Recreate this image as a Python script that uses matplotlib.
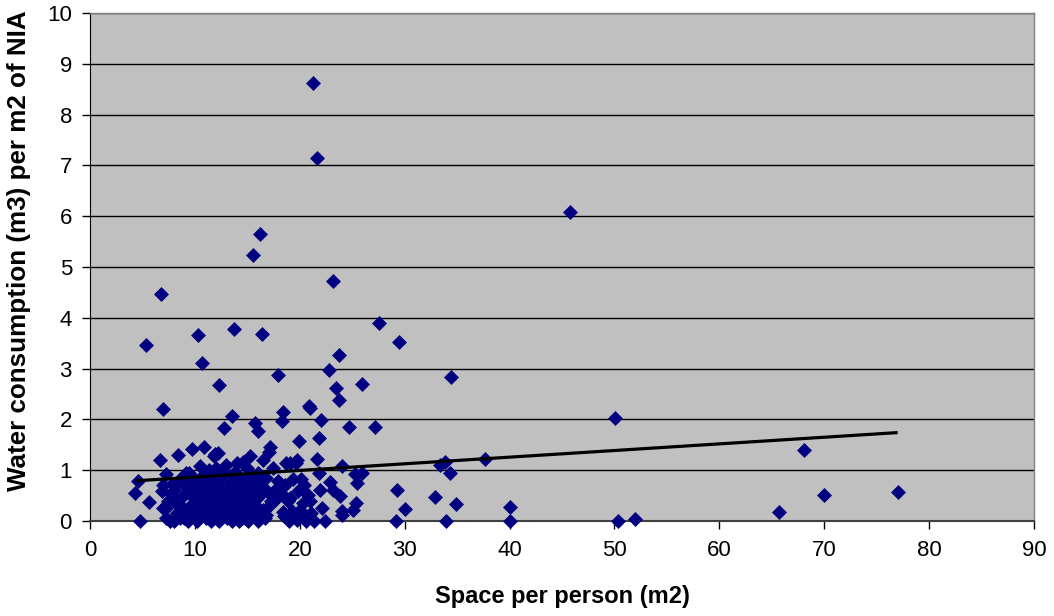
import matplotlib
matplotlib.use("Agg")
import matplotlib.pyplot as plt
import numpy as np

# Space per person (m2) and water consumption (m3 per m2 of NIA) per building
space_per_person = [
    21.3, 21.6, 45.8, 16.2, 15.5, 23.2, 6.8, 5.3, 10.3, 13.7, 16.4, 27.6, 29.5,
    10.7, 23.7, 12.3, 17.9, 22.8, 25.9, 34.4, 23.5, 23.7, 7.0, 13.5, 18.4, 18.3,
    20.9, 21.0, 22.0, 50.1, 24.7, 27.2, 12.8, 15.7, 16.0, 21.8, 19.9, 17.2, 17.1,
    68.1, 37.7, 33.4, 33.8, 34.3, 32.9, 34.9, 40.0, 30.0, 29.3, 29.2, 33.9, 40.0,
    50.3, 52.0, 65.7, 70.0, 77.0,
    9.7, 10.9, 8.4, 6.7, 11.9, 12.2, 14.6, 15.3, 17.4, 18.7, 19.1, 19.6, 21.6,
    24.0, 21.8, 25.3, 25.9, 25.5, 22.9, 23.2, 23.8, 20.8, 21.9, 19.4, 20.1, 16.8,
    7.2, 9.4, 4.6, 4.3, 5.6, 4.8, 7.0, 18.9, 18.4, 20.0, 25.4, 25.1, 24.0, 24.0,
    22.1, 21.1, 21.4, 22.4, 18.5,
    11.8, 16.5, 19.7, 9.2, 12.1, 13.8, 7.0, 7.8, 7.2, 8.3, 8.9, 7.2, 15.9, 16.4,
    16.8, 19.1, 20.3, 20.7, 19.7, 17.8, 17.2, 15.3, 15.9,
    8.0, 8.2, 8.5, 8.6, 8.8, 9.0, 9.1, 9.3, 9.4, 9.6, 9.8, 9.9, 10.0, 10.1, 10.2,
    10.3, 10.5, 10.6, 10.7, 10.8, 10.9, 11.0, 11.1, 11.2, 11.3, 11.4, 11.5, 11.6,
    11.7, 11.8, 11.9, 12.0, 12.1, 12.2, 12.3, 12.4, 12.5, 12.6, 12.7, 12.8, 12.9,
    13.0, 13.1, 13.2, 13.3, 13.4, 13.5, 13.6, 13.7, 13.8, 13.9, 14.0, 14.1, 14.2,
    14.3, 14.4, 14.5, 14.6, 14.7, 14.8, 14.9, 15.0, 15.1, 15.2, 15.4, 15.5, 15.6,
    15.8, 16.0, 16.1, 16.3, 16.5, 16.7, 17.0, 17.3, 17.6, 17.9, 18.2, 18.6, 19.0,
    19.3, 19.8, 20.4, 20.6, 21.0, 12.0, 13.0, 14.0, 11.3, 15.0, 16.0, 10.5, 9.0,
    8.0, 7.6, 7.4, 7.8, 6.9,
    10.4, 11.6, 12.4, 13.2, 14.1, 14.9, 9.5, 10.9, 12.9, 13.6, 14.5, 11.0, 12.2,
]
water_per_m2 = [
    8.62, 7.14, 6.08, 5.65, 5.23, 4.73, 4.46, 3.47, 3.67, 3.78, 3.68, 3.89, 3.53,
    3.12, 3.26, 2.67, 2.87, 2.97, 2.70, 2.83, 2.62, 2.38, 2.20, 2.06, 2.14, 1.96,
    2.26, 2.22, 1.99, 2.03, 1.85, 1.85, 1.83, 1.93, 1.78, 1.64, 1.57, 1.46, 1.36,
    1.39, 1.22, 1.11, 1.16, 0.94, 0.48, 0.34, 0.27, 0.23, 0.61, 0.00, 0.00, 0.00,
    0.00, 0.03, 0.17, 0.52, 0.58,
    1.42, 1.46, 1.29, 1.21, 1.31, 1.33, 1.17, 1.27, 1.05, 1.14, 1.15, 1.15, 1.23,
    1.08, 0.94, 0.92, 0.94, 0.74, 0.77, 0.62, 0.50, 0.52, 0.61, 0.83, 0.83, 0.84,
    0.92, 0.94, 0.78, 0.56, 0.38, 0.00, 0.25, 0.40, 0.17, 0.22, 0.35, 0.22, 0.20,
    0.12, 0.25, 0.15, 0.00, 0.00, 0.10,
    1.27, 1.20, 1.20, 0.94, 0.97, 0.97, 0.71, 0.51, 0.25, 0.15, 0.25, 0.05, 0.45,
    0.18, 0.12, 0.45, 0.35, 0.08, 0.02, 0.45, 0.31, 0.64, 0.74,
    0.62, 0.35, 0.80, 0.05, 0.48, 0.70, 0.20, 0.00, 0.55, 0.32, 0.85, 0.10, 0.45,
    0.66, 0.00, 0.28, 0.78, 0.52, 0.15, 0.38, 0.92, 0.60, 0.05, 0.30, 0.72, 0.47,
    0.00, 0.20, 0.85, 0.58, 0.36, 0.10, 0.68, 0.44, 0.00, 0.25, 0.80, 0.55, 0.15,
    0.38, 0.95, 0.62, 0.05, 0.30, 0.48, 0.75, 0.00, 0.20, 0.58, 0.40, 0.10, 0.88,
    0.28, 0.00, 0.65, 0.45, 0.15, 0.35, 0.78, 0.05, 0.55, 0.25, 0.00, 0.42, 0.90,
    0.12, 0.60, 0.30, 0.00, 0.50, 0.70, 0.22, 0.05, 0.58, 0.40, 0.62, 0.78, 0.55,
    0.70, 0.00, 0.20, 0.60, 0.70, 0.00, 0.40, 1.05, 1.10, 1.15, 1.00, 1.05, 0.95,
    1.08, 0.05, 0.00, 0.00, 0.40, 0.72, 0.60,
    0.18, 0.40, 0.58, 0.14, 0.50, 0.68, 0.72, 0.22, 0.32, 0.88, 0.05, 0.82, 0.02,
]

# Linear trend line: intercept and slope
trend_intercept = 0.734
trend_slope = 0.01307

x_ticks = [0, 10, 20, 30, 40, 50, 60, 70, 80, 90]
y_ticks = [0, 1, 2, 3, 4, 5, 6, 7, 8, 9, 10]

plt.rcParams["font.family"] = ["Liberation Sans", "DejaVu Sans"]

fig = plt.figure(figsize=(10.54, 6.16), dpi=100)
ax = fig.add_axes([90 / 1054, 95 / 616, 944 / 1054, 508 / 616])
ax.set_facecolor("#C0C0C0")

ax.set_xlim(0, 90)
ax.set_ylim(0, 10)
ax.set_xticks(x_ticks)
ax.set_yticks(y_ticks)

for yv in y_ticks[1:]:
    ax.axhline(yv, color="#000000", linewidth=1.0, zorder=1)

ax.plot(space_per_person, water_per_m2, linestyle="none", marker="D",
        markersize=7.0, color="#000080", markeredgecolor="#000080",
        markeredgewidth=0.5, zorder=3, clip_on=False)

x_line = np.array([min(space_per_person), max(space_per_person)])
ax.plot(x_line, trend_intercept + trend_slope * x_line, color="#000000",
        linewidth=2.3, zorder=4, solid_capstyle="butt")

for side in ("top", "right"):
    ax.spines[side].set_color("#808080")
    ax.spines[side].set_linewidth(1.0)
ax.spines["left"].set_color("#000000")
ax.spines["bottom"].set_color("#404040")
ax.spines["bottom"].set_linewidth(1.5)

ax.tick_params(axis="both", direction="out", length=6, width=1,
               labelsize=16, color="#000000")
ax.tick_params(axis="x", pad=8)
ax.tick_params(axis="y", pad=7)

ax.set_xlabel("Space per person (m2)", fontsize=17, fontweight="bold")
ax.set_ylabel("Water consumption (m3) per m2 of NIA", fontsize=18.7,
              fontweight="bold")
ax.xaxis.set_label_coords(0.5, (521 - 597) / 508)
ax.xaxis.label.set_va("center")
ax.yaxis.set_label_coords((19 - 90) / 944, (521 - 251) / 508)
ax.yaxis.label.set_va("center")

fig.savefig("out.png", dpi=100)
